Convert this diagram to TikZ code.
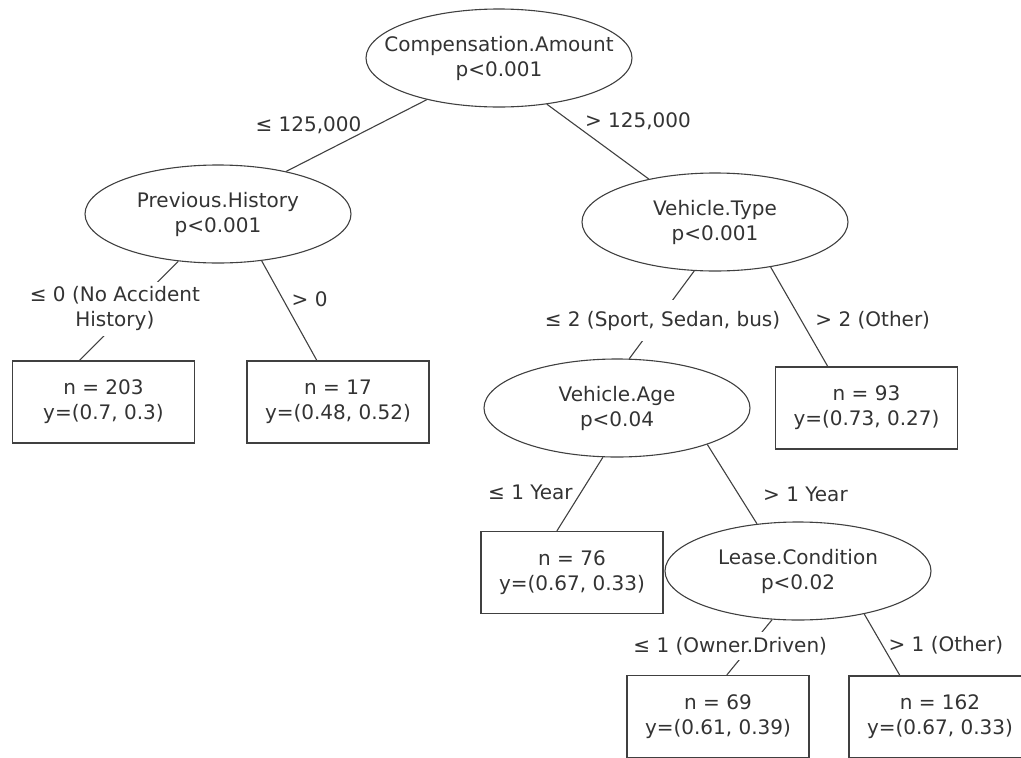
\documentclass[tikz,border=0pt]{standalone}
\usepackage{fontspec}
\setmainfont{DejaVu Sans}
\usetikzlibrary{shapes.geometric,positioning}

\begin{document}
\begin{tikzpicture}[x=1pt,y=1pt,on grid,
   font=\fontsize{20}{25}\selectfont, text=black!80,
   every edge/.style={draw=black!75, line width=1.1pt},
   splitnode/.style={ellipse, draw=black!75, line width=1.1pt, align=center,
      minimum width=266pt, minimum height=98pt, inner xsep=-25pt, inner ysep=0pt},
   leafnode/.style={rectangle, draw=black!75, line width=1.1pt, align=center,
      minimum width=182pt, minimum height=82pt},
   splitlabel/.style={align=center, inner sep=3pt}]
   \useasboundingbox (0,0) rectangle (1021,-758);
   \clip (0,0) rectangle (1021,-758);

   \node[splitnode] (root) at (499,-58) {Compensation.Amount\\p<0.001};
   \node[splitnode] (prev)  [below left=156pt and 281pt of root]  {Previous.History\\p<0.001};
   \node[splitnode] (vtype) [below right=164pt and 216pt of root] {Vehicle.Type\\p<0.001};
   \node[splitnode] (vage)  [below left=186pt and 98pt of vtype]  {Vehicle.Age\\p<0.04};
   \node[splitnode] (lease) [below right=163pt and 181pt of vage] {Lease.Condition\\p<0.02};

   \node[leafnode] (n203) [below left=188pt and 114.5pt of prev]   {n = 203\\y=(0.7, 0.3)};
   \node[leafnode] (n17)  [below right=188pt and 120pt of prev]    {n = 17\\y=(0.48, 0.52)};
   \node[leafnode] (n93)  [below right=186pt and 151.5pt of vtype] {n = 93\\y=(0.73, 0.27)};
   \node[leafnode] (n76)  [below left=164.5pt and 45pt of vage]    {n = 76\\y=(0.67, 0.33)};
   \node[leafnode] (n69)  [below left=145.5pt and 80pt of lease]   {n = 69\\y=(0.61, 0.39)};
   \node[leafnode] (n162) [below right=146pt and 142pt of lease]  {n = 162\\y=(0.67, 0.33)};

    \path
    (root.210)  edge node[splitlabel, pos=0.44, anchor=south east, yshift=-6pt] {≤ 125,000} (prev.32)
    (root.316)  edge node[splitlabel, pos=0.34, anchor=south west, yshift=-4pt] {> 125,000} (vtype.147)

    (prev.230)  edge node[splitlabel, pos=0.45, xshift=-19pt, yshift=-3pt, fill=white, inner xsep=10pt, inner ysep=5pt]
                     {≤ 0 (No Accident\\History)} (n203.120)
    (prev.313)  edge node[splitlabel, pos=0.39, anchor=west, xshift=5pt] {> 0} (n17.117)

    (vtype.247) edge node[splitlabel, pos=0.52, xshift=2pt, yshift=-4pt, fill=white, inner ysep=11pt]
                     {≤ 2 (Sport, Sedan, bus)} (vage.76)
    (vtype.321) edge node[splitlabel, pos=0.53, anchor=west, xshift=11pt] {> 2 (Other)} (n93.133)

    (vage.254)  edge node[splitlabel, pos=0.47, anchor=east, xshift=-5pt] {≤ 1 Year} (n76.110)
    (vage.338)  edge node[splitlabel, pos=0.63, anchor=west, xshift=21pt] {> 1 Year} (lease.131)

    (lease.242) edge node[splitlabel, pos=0.44, xshift=-22pt, yshift=-2pt, fill=white, inner ysep=5pt]
                     {≤ 1 (Owner.Driven)} (n69.78)
    (lease.327) edge node[splitlabel, pos=0.5, anchor=west, xshift=3pt] {> 1 (Other)} (n162.134);
\end{tikzpicture}
\end{document}
